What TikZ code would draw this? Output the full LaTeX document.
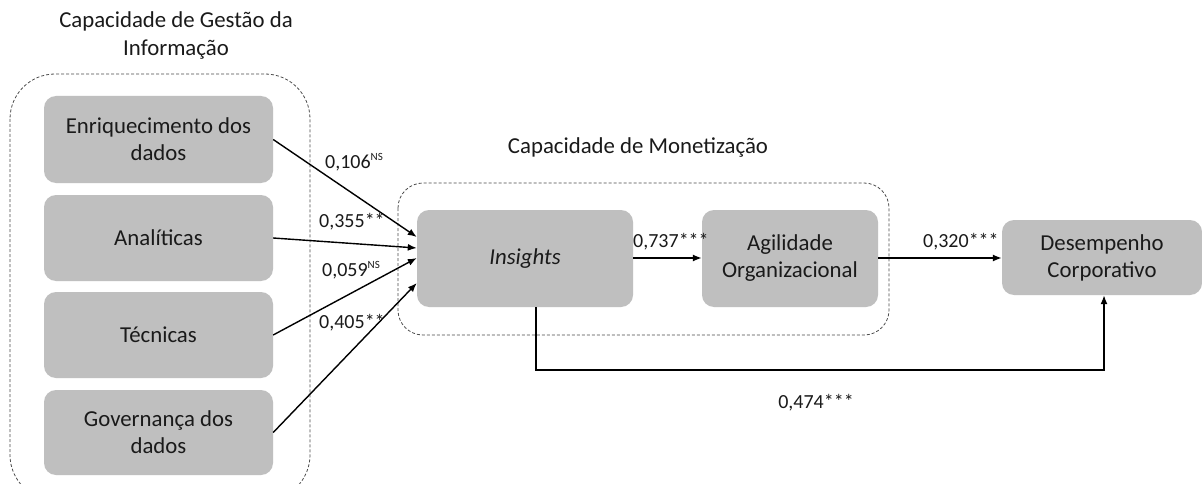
\documentclass[tikz,border=0pt]{standalone}
\usepackage{fontspec}
\setmainfont{Carlito}
\usetikzlibrary{arrows.meta}
\begin{document}
\begin{tikzpicture}[x=1pt,y=-1pt,
  box/.style={fill=boxgray, draw=none, rounded corners=12pt, align=center, inner sep=0pt,
    font=\fontsize{22.8}{27}\selectfont, text=txt},
  cont/.style={draw=black!70, dashed, dash pattern=on 3pt off 2pt, line width=0.8pt},
  arr/.style={-{Latex[length=9pt,width=7pt]}, line width=1.4pt},
  lab/.style={font=\fontsize{20}{23}\selectfont, inner sep=0pt, text=txt},
  ttl/.style={font=\fontsize{22.8}{28}\selectfont, align=center, inner sep=0pt, text=txt}]
\definecolor{boxgray}{HTML}{BFBFBF}
\definecolor{txt}{HTML}{1A1A1A}
\clip (0,0) rectangle (1202,484);
\fill[white] (0,0) rectangle (1202,484);
% containers
\draw[cont, rounded corners=45pt] (10,74) rectangle (310,500);
\draw[cont, rounded corners=25pt] (398,183) rectangle (889,335);
% titles
\node[ttl] (t1) at (176,36) {Capacidade de Gestão da\\Informação};
\node[ttl] (t2) at (638,147) {Capacidade de Monetização};
% left boxes
\node[box, minimum width=229pt, minimum height=87pt] (enr) at (158.5,139.5) {Enriquecimento dos\\dados};
\node[box, minimum width=229pt, minimum height=86pt] (ana) at (158.5,238) {Analíticas};
\node[box, minimum width=229pt, minimum height=86pt] (tec) at (158.5,335) {Técnicas};
\node[box, minimum width=229pt, minimum height=85pt] (gov) at (158.5,432.5) {Governança dos\\dados};
% middle boxes
\node[box, minimum width=216pt, minimum height=97pt] (ins) at (525,258.5) {\itshape Insights};
\node[box, minimum width=176pt, minimum height=97pt] (agi) at (790,258.5) {Agilidade\\Organizacional};
\node[box, minimum width=200pt, minimum height=75pt] (des) at (1102,257.5) {Desempenho\\Corporativo};
% arrows into Insights
\draw[arr] (enr.east) -- (ins.west |- 0,237);
\draw[arr] (ana.east) -- (ins.west |- 0,248);
\draw[arr] (tec.east) -- (ins.west |- 0,258);
\draw[arr] (gov.east) -- (ins.west |- 0,283);
\draw[arr] (ins.east |- 0,258) -- (agi.west |- 0,258);
\draw[arr] (agi.east |- 0,258) -- (des.west |- 0,258);
\coordinate (c1) at (536,370);
\coordinate (c2) at (1104,370);
\draw[arr] (ins.south -| c1) -- (c1) -- (c2) -- (des.south -| c2);
% labels
\node[lab, anchor=west] (l1) at (325,162) {0,106\textsuperscript{\fontsize{11}{12}\selectfont NS}};
\node[lab, anchor=west] (l2) at (319,222) {0,355**};
\node[lab, anchor=west] (l3) at (322,270) {0,059\textsuperscript{\fontsize{11}{12}\selectfont NS}};
\node[lab, anchor=west] (l4) at (319,323) {0,405**};
\node[lab, anchor=west] (l5) at (633,242) {0,737***};
\node[lab, anchor=west] (l6) at (923,242) {0,320***};
\node[lab] (l7) at (816,403) {0,474***};
\end{tikzpicture}
\end{document}
